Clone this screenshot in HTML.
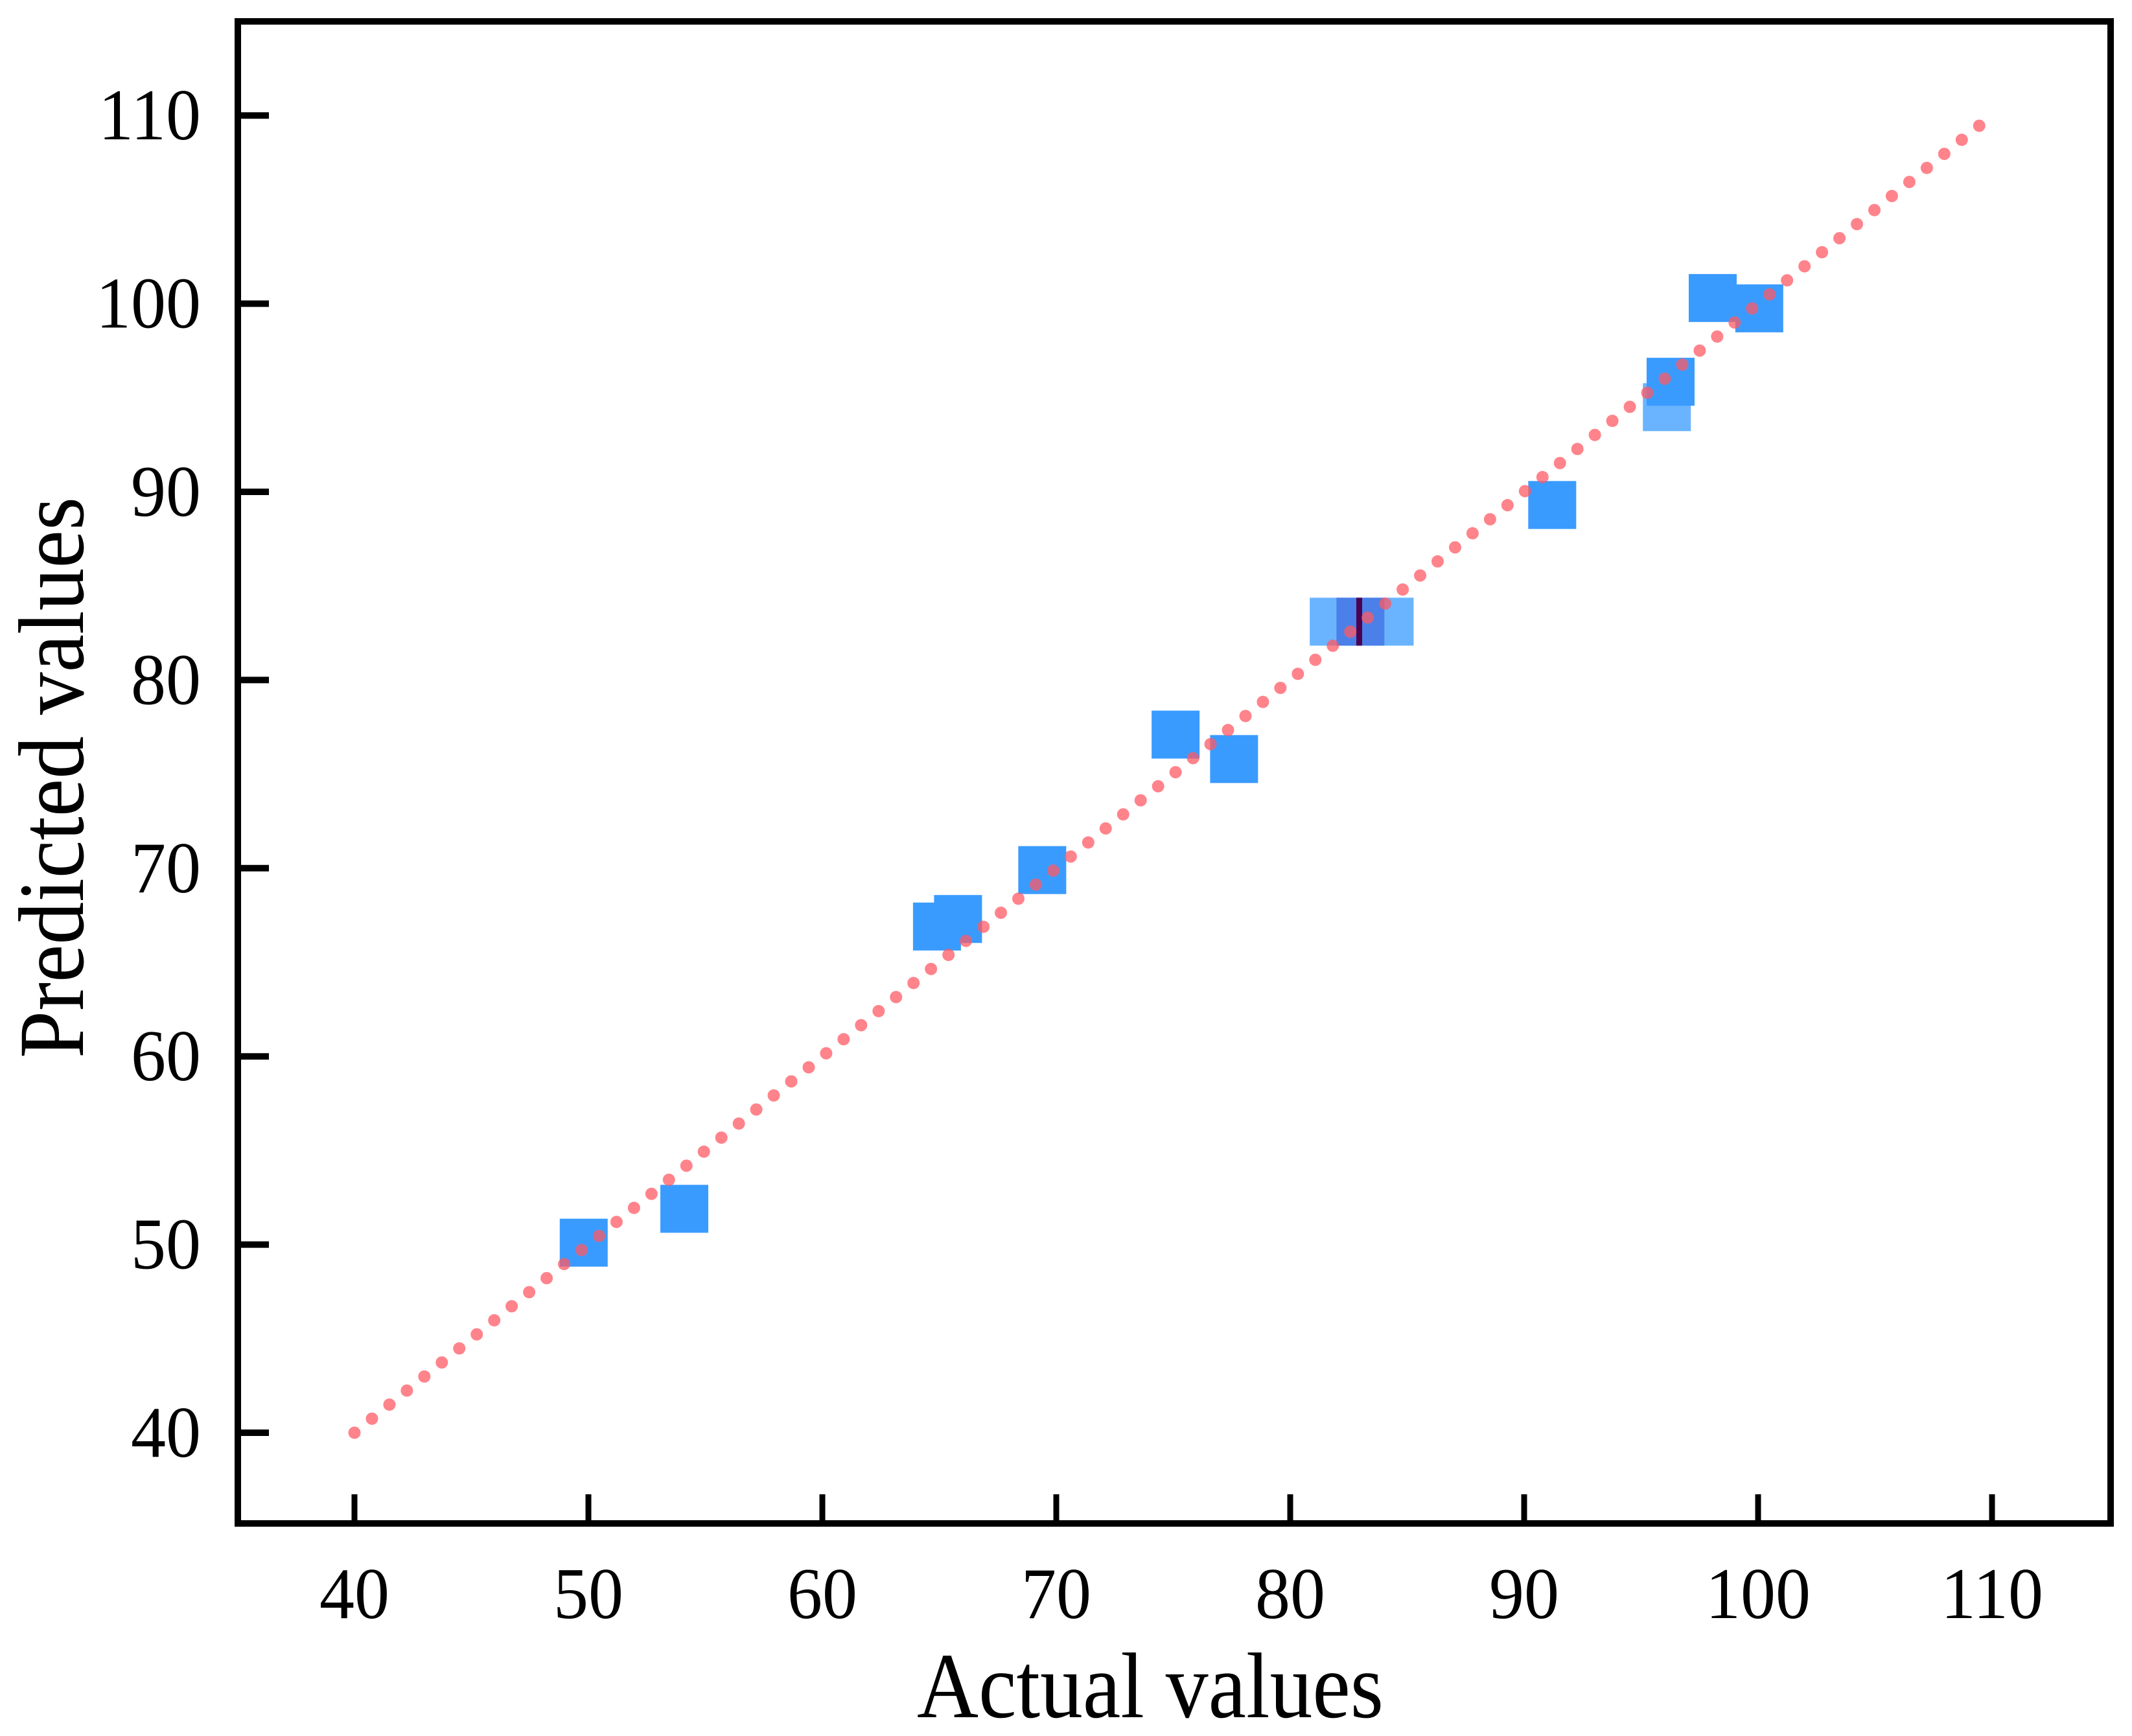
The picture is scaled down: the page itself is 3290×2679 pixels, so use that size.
<!DOCTYPE html>
<html><head><meta charset="utf-8"><style>
html,body{margin:0;padding:0;background:#fff;}
svg{display:block;}
text{font-family:"Liberation Serif",serif;fill:#000;}
</style></head><body>
<svg id="chart" width="3290" height="2679" viewBox="0 0 3290 2679" xmlns="http://www.w3.org/2000/svg">
<rect x="0" y="0" width="3290" height="2679" fill="#fff"/>
<g id="marks"></g>
<g id="line"></g>
<rect x="367" y="33" width="2890" height="2318" fill="none" stroke="#000" stroke-width="10"/>
<g id="xticks"></g>
<g id="yticks"></g>
<text x="1775" y="2650" font-size="144" text-anchor="middle" textLength="720" lengthAdjust="spacingAndGlyphs">Actual values</text>
<text transform="translate(128,1200) rotate(-90)" font-size="144" text-anchor="middle" textLength="866" lengthAdjust="spacingAndGlyphs">Predicted values</text>
</svg>
<script>
const actualValues = [49.8, 54.1, 64.9, 65.8, 69.4, 75.1, 77.6, 91.2, 96.1, 96.26, 98.06, 100.05, 81.86, 84.25, 83.0];
const predictedValues = [50.1, 51.9, 66.9, 67.3, 69.9, 77.1, 75.8, 89.3, 94.5, 95.85, 100.3, 99.75, 83.1, 83.1, 83.1];
const densityLevel = [1, 1, 1, 1, 1, 1, 1, 1, 0, 1, 1, 1, 0, 0, 2];
const darkBarX = [82.95];
const darkBarY = [83.1];
const xTicks = [40, 50, 60, 70, 80, 90, 100, 110];
const yTicks = [40, 50, 60, 70, 80, 90, 100, 110];
const lineStart = [40, 40];
const lineEnd = [109.5, 109.5];

const NS = "http://www.w3.org/2000/svg";
function X(v){ return 547 + (v - 40) * 36.1; }
function Y(v){ return 2211 - (v - 40) * 29.04; }
const colors = ["#6ab4ff", "#3a9bff", "#4a80e8"];
const W = 74, H = 74;

const marks = document.getElementById("marks");
[0, 1, 2].forEach(level => {
  actualValues.forEach((a, i) => {
    if (densityLevel[i] !== level) return;
    const r = document.createElementNS(NS, "rect");
    r.setAttribute("x", X(a) - W / 2);
    r.setAttribute("y", Y(predictedValues[i]) - H / 2);
    r.setAttribute("width", W);
    r.setAttribute("height", H);
    r.setAttribute("fill", colors[level]);
    
    
    marks.appendChild(r);
  });
});
darkBarX.forEach((a, i) => {
  const r = document.createElementNS(NS, "rect");
  r.setAttribute("x", X(a) - 4.5);
  r.setAttribute("y", Y(darkBarY[i]) - H / 2);
  r.setAttribute("width", 9);
  r.setAttribute("height", H);
  r.setAttribute("fill", "#4b0050");
  
  
  marks.appendChild(r);
});

const lg = document.getElementById("line");
const ln = document.createElementNS(NS, "line");
ln.setAttribute("x1", X(lineStart[0])); ln.setAttribute("y1", Y(lineStart[1]));
ln.setAttribute("x2", X(lineEnd[0])); ln.setAttribute("y2", Y(lineEnd[1]));
ln.setAttribute("stroke", "rgba(255,90,100,0.75)");
ln.setAttribute("stroke-width", "19");
ln.setAttribute("stroke-linecap", "round");
ln.setAttribute("stroke-dasharray", "0 34.6");


lg.appendChild(ln);

const xg = document.getElementById("xticks");
xTicks.forEach(t => {
  const l = document.createElementNS(NS, "line");
  l.setAttribute("x1", X(t)); l.setAttribute("x2", X(t));
  l.setAttribute("y1", 2351); l.setAttribute("y2", 2306);
  l.setAttribute("stroke", "#000"); l.setAttribute("stroke-width", "9");
  
  
  xg.appendChild(l);
  const tx = document.createElementNS(NS, "text");
  tx.setAttribute("transform", "translate(" + X(t) + ",2497) scale(1,1.04)");
  tx.setAttribute("font-size", "108");
  tx.setAttribute("text-anchor", "middle");
  tx.textContent = t;
  
  
  xg.appendChild(tx);
});
const yg = document.getElementById("yticks");
yTicks.forEach(t => {
  const l = document.createElementNS(NS, "line");
  l.setAttribute("x1", 367); l.setAttribute("x2", 415);
  l.setAttribute("y1", Y(t)); l.setAttribute("y2", Y(t));
  l.setAttribute("stroke", "#000"); l.setAttribute("stroke-width", "10");
  
  
  yg.appendChild(l);
  const tx = document.createElementNS(NS, "text");
  tx.setAttribute("transform", "translate(310," + (Y(t) + 37) + ") scale(1,1.04)");
  tx.setAttribute("font-size", "108");
  tx.setAttribute("text-anchor", "end");
  tx.textContent = t;
  
  
  yg.appendChild(tx);
});
</script>
</body></html>
